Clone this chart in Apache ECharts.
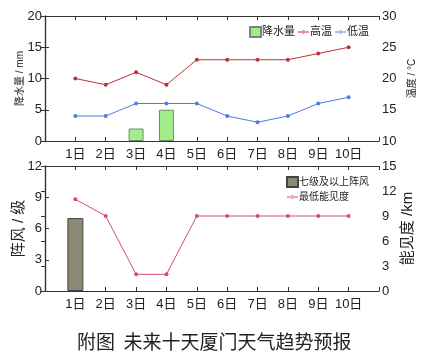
<!DOCTYPE html>
<html><head><meta charset="utf-8">
<script src="https://cdn.jsdelivr.net/npm/echarts@6/dist/echarts.min.js"></script>
<style>html,body{margin:0;padding:0;background:#fff}#c{width:430px;height:362px}</style>
</head><body><div id="c"></div>
<script>
const days = ['1日','2日','3日','4日','5日','6日','7日','8日','9日','10日'];
const precip = [0,0,2,5,0,0,0,0,0,0];
const highTemp = [20,19,21,19,23,23,23,23,24,25];
const lowTemp = [14,14,16,16,16,14,13,14,16,17];
const gust = [7,0,0,0,0,0,0,0,0,0];
const visibility = [11,9,2,2,9,9,9,9,9,9];
const titleText = '附图  未来十天厦门天气趋势预报';

// day i sits at x = i+1 on an axis from 0 to 11
const pts = a => a.map((v, i) => [i + 1, v]);
const barPts = a => a.map((v, i) => [i + 1, v === 0 ? null : v]);

const font = "'Liberation Sans','Noto Sans CJK SC',sans-serif";
const axisColor = '#333';
function xAx(grid, top) {
  return {
    type:'value', gridIndex:grid, min:0, max:11, interval:1,
    position: top ? 'top' : 'bottom',
    axisLine:{show:true,onZero:false,lineStyle:{color:axisColor,width:1.2}},
    axisTick:{show:true,inside:true,length:4,lineStyle:{color:axisColor}},
    axisLabel:{show:!top,color:'#222',fontSize:13,fontFamily:font,margin:7,
      formatter: v => (v >= 1 && v <= days.length) ? days[v - 1] : ''},
    splitLine:{show:false}
  };
}
function yAx(grid, pos, min, max, interval, name, nameSize, nameGap) {
  return {
    type:'value', gridIndex:grid, position:pos, min, max, interval,
    name, nameLocation:'middle', nameGap, nameMoveOverlap:false,
    nameTextStyle:{fontSize:nameSize,color:'#222',fontFamily:font},
    axisLine:{show:true,lineStyle:{color:axisColor,width:1.2}},
    axisTick:{show:true,inside:true,length:4,lineStyle:{color:axisColor}},
    axisLabel:{color:'#222',fontSize:13,fontFamily:font,margin:3},
    splitLine:{show:false}
  };
}
const lineIcon = 'path://M0,4.4h16v1.2h-16z M5.6,5a2.4,2.4 0 1,0 4.8,0a2.4,2.4 0 1,0 -4.8,0z';
const chart = echarts.init(document.getElementById('c'), null, {renderer:'canvas'});
chart.setOption({
  animation:false,
  backgroundColor:'#fff',
  title:{text:titleText,left:72,top:327,textStyle:{fontSize:19,fontWeight:'normal',color:'#222',fontFamily:"'Noto Sans CJK SC',serif"}},
  grid:[
    {left:45,right:51,top:16,height:125},
    {left:45,right:51,top:166,height:125}
  ],
  xAxis:[xAx(0,false),xAx(0,true),xAx(1,false),xAx(1,true)],
  yAxis:[
    yAx(0,'left',0,20,5,'降水量 / mm',10,20),
    yAx(0,'right',10,30,5,'温度 / °C',10,28),
    yAx(1,'left',0,12,3,'阵风 / 级',15,19),
    yAx(1,'right',0,15,3,'能见度 /km',15,21)
  ],
  legend:[
    {right:56,top:21,itemGap:3,itemWidth:11,itemHeight:10,
     textStyle:{fontSize:11,color:'#222',fontFamily:font,padding:[0,0,0,-4]},
     data:[{name:'降水量',icon:'rect'},{name:'高温',icon:lineIcon},{name:'低温',icon:lineIcon}]},
    {right:56,top:171,orient:'vertical',itemGap:4,itemWidth:11,itemHeight:10,
     textStyle:{fontSize:10,color:'#222',fontFamily:font,padding:[0,0,0,-4]},
     data:[{name:'七级及以上阵风',icon:'rect'},{name:'最低能见度',icon:lineIcon}]}
  ],
  series:[
    {name:'降水量',type:'bar',xAxisIndex:0,yAxisIndex:0,data:barPts(precip),barWidth:15,
     itemStyle:{color:'#a3ec8c',borderColor:'#6f8f66',borderWidth:1}},
    {name:'高温',type:'line',xAxisIndex:0,yAxisIndex:1,data:pts(highTemp),
     symbol:'circle',symbolSize:4,lineStyle:{color:'#c0303a',width:1},itemStyle:{color:'#c0303a'}},
    {name:'低温',type:'line',xAxisIndex:0,yAxisIndex:1,data:pts(lowTemp),
     symbol:'circle',symbolSize:4,lineStyle:{color:'#4d7de6',width:1},itemStyle:{color:'#4d7de6'}},
    {name:'七级及以上阵风',type:'bar',xAxisIndex:2,yAxisIndex:2,data:barPts(gust),barWidth:16,
     itemStyle:{color:'#8b8b75',borderColor:'#444',borderWidth:1}},
    {name:'最低能见度',type:'line',xAxisIndex:2,yAxisIndex:3,data:pts(visibility),
     symbol:'circle',symbolSize:4,lineStyle:{color:'#d64a82',width:1},itemStyle:{color:'#d64a82'}}
  ]
});
</script></body></html>
